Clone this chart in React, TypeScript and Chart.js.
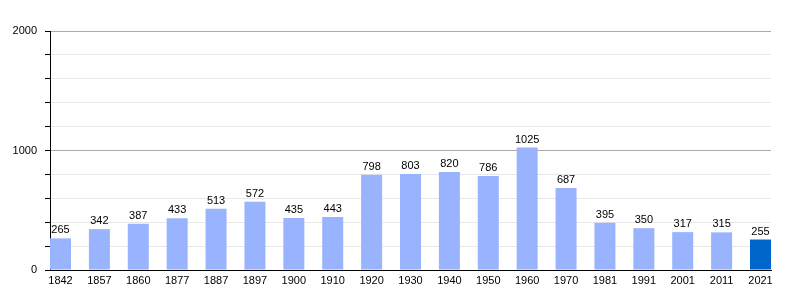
import React, { useEffect, useRef } from "react";
import { Chart, registerables } from "chart.js";

Chart.register(...registerables);

const years = ["1842", "1857", "1860", "1877", "1887", "1897", "1900", "1910", "1920", "1930", "1940", "1950", "1960", "1970", "1981", "1991", "2001", "2011", "2021"];
const population = [265, 342, 387, 433, 513, 572, 435, 443, 798, 803, 820, 786, 1025, 687, 395, 350, 317, 315, 255];
const yLabelValues = [0, 1000, 2000];

const BAR = "#99b3ff";
const BAR_LAST = "#0066cc";
const FONT = "'Liberation Sans', Arial, sans-serif";

const valueLabels = {
  id: "valueLabels",
  afterDatasetsDraw(chart: any) {
    const ctx = chart.ctx;
    const meta = chart.getDatasetMeta(0);
    ctx.save();
    ctx.font = `11px ${FONT}`;
    ctx.fillStyle = "#000";
    ctx.textAlign = "center";
    ctx.textBaseline = "alphabetic";
    meta.data.forEach((el: any, i: number) => {
      ctx.fillText(String(population[i]), el.x, el.y - 5);
    });
    ctx.restore();
  },
};

export default function App() {
  const ref = useRef<HTMLCanvasElement>(null);
  useEffect(() => {
    if (!ref.current) return;
    const chart = new Chart(ref.current, {
      type: "bar",
      data: {
        datasets: [
          {
            data: population.map((v, i) => ({ x: i, y: v })),
            backgroundColor: population.map((_, i) => (i === population.length - 1 ? BAR_LAST : BAR)),
            borderWidth: 0,
            barPercentage: 0.54,
            categoryPercentage: 1,
          },
        ],
      },
      options: {
        animation: false,
        responsive: true,
        maintainAspectRatio: false,
        layout: { padding: { top: 31, right: 29, left: 0, bottom: 0 } },
        plugins: { legend: { display: false }, tooltip: { enabled: false } },
        scales: {
          x: {
            type: "linear",
            min: -0.27,
            max: years.length - 1 + 0.27,
            offset: false,
            grid: { display: false, drawTicks: false },
            border: { display: true, color: "#000", width: 1 },
            afterBuildTicks: (scale: any) => {
              scale.ticks = years.map((_, i) => ({ value: i }));
            },
            afterFit: (scale: any) => {
              scale.height = 30;
            },
            ticks: {
              autoSkip: false,
              maxRotation: 0,
              padding: 4,
              color: "#000",
              font: { family: FONT, size: 11 },
              callback: (v: any) => years[v] ?? "",
            },
          },
          y: {
            min: 0,
            max: 2000,
            afterFit: (scale: any) => {
              scale.width = 50;
            },
            border: { display: true, color: "#000", width: 1 },
            grid: {
              color: (c: any) => (c.tick && c.tick.value % 1000 === 0 ? "#aaaaaa" : "#e8e8e8"),
              tickColor: "#000",
              tickLength: 5,
            },
            ticks: {
              stepSize: 200,
              padding: 8,
              color: "#000",
              font: { family: FONT, size: 11 },
              callback: (v: any) => (yLabelValues.includes(Number(v)) ? String(v) : ""),
            },
          },
        },
      },
      plugins: [valueLabels],
    });
    return () => chart.destroy();
  }, []);
  return (
    <div style={{ position: "fixed", left: 0, top: 0, width: 800, height: 300, background: "#fff" }}>
      <canvas ref={ref} />
    </div>
  );
}
